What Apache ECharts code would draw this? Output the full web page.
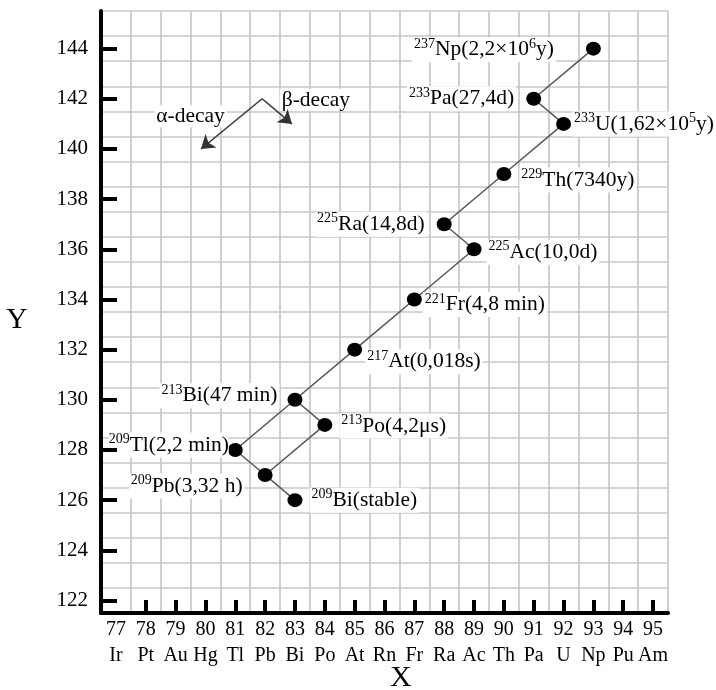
<!DOCTYPE html>
<html><head><meta charset="utf-8">
<script src="https://cdn.jsdelivr.net/npm/echarts@6/dist/echarts.min.js"></script>
<style>html,body{margin:0;padding:0;background:#fff}#c{width:716px;height:690px}</style>
</head><body><div id="c"></div>
<script>
// ---- data ----
const atomicNumbers = [77,78,79,80,81,82,83,84,85,86,87,88,89,90,91,92,93,94,95];
const elementSymbols = ['Ir','Pt','Au','Hg','Tl','Pb','Bi','Po','At','Rn','Fr','Ra','Ac','Th','Pa','U','Np','Pu','Am'];
const xTickValues = [78,79,80,81,82,83,84,85,86,87,88,89,90,91,92,93,94,95];
const yTickValues = [122,124,126,128,130,132,134,136,138,140,142,144];

const nuclideSymbols = ['Np','Pa','U','Th','Ra','Ac','Fr','At','Bi','Po','Tl','Pb','Bi'];
const massNumbers    = [237,233,233,229,225,225,221,217,213,213,209,209,209];
const protonNumbers  = [93,91,92,90,88,89,87,85,83,84,81,82,83];
const neutronNumbers = [144,142,141,139,137,136,134,132,130,129,128,127,126];
const halfLives = ['2,2×10^6y','27,4d','1,62×10^5y','7340y','14,8d','10,0d','4,8 min','0,018s','47 min','4,2μs','2,2 min','3,32 h','stable'];
const decayLinks = [[0,1],[1,2],[2,3],[3,4],[4,5],[5,6],[6,7],[7,8],[8,9],[8,10],[9,11],[10,11],[11,12]];

const legendArrowStart = [81.9, 142];
const alphaArrowEnd = [79.85, 140];
const betaArrowEnd = [82.9, 141];
const alphaLabelAt = [79.5, 141.3];
const betaLabelAt = [83.7, 141.95];

// ---- layout / style ----
const SERIF = '"Liberation Serif", "DejaVu Serif", serif';
const labelPlacement = [
  {position:'left', distance:30, offset:[0,1], padding:[0,2]},
  {position:'left', distance:10, offset:[0,0], padding:[0,2]},
  {position:'right', distance:1, offset:[0,0], padding:[0,2]},
  {position:'right', distance:8, offset:[0,6], padding:[0,2]},
  {position:'left', distance:10, offset:[0,0], padding:[0,2]},
  {position:'right', distance:5, offset:[0,3], padding:[0,2]},
  {position:'right', distance:1, offset:[0,5], padding:[0,2]},
  {position:'right', distance:3, offset:[0,12], padding:[0,2]},
  {position:'left', distance:8, offset:[0,-4], padding:[0,2]},
  {position:'right', distance:7, offset:[0,1], padding:[0,2]},
  {position:'left', distance:0, offset:[1,-5], padding:[0,0]},
  {position:'left', distance:13, offset:[0,11], padding:[0,2]},
  {position:'right', distance:7, offset:[0,0], padding:[0,2]}
];
const rich = {
  t: {fontSize:21.5, fontFamily:SERIF, color:'#000', lineHeight:25},
  sup: {fontSize:14, fontFamily:SERIF, color:'#000', verticalAlign:'top', lineHeight:18}
};
function labelText(i){
  const hl = halfLives[i].replace(/\^(\d+)/, '}{sup|$1}{t|');
  return '{sup|' + massNumbers[i] + '}{t|' + nuclideSymbols[i] + '(' + hl + ')}';
}

const X_MIN = 76.5, X_MAX = 95.5, Y_MIN = 121.5, Y_MAX = 145.5;
const gridLine = {show:true, lineStyle:{color:'#c8c7bf', width:1.7}};

const series = [];
decayLinks.forEach(function(l){
  series.push({
    type:'line', xAxisIndex:0, yAxisIndex:0, silent:true, symbol:'none', z:2,
    lineStyle:{color:'#555', width:1.5},
    data:[[protonNumbers[l[0]], neutronNumbers[l[0]]],[protonNumbers[l[1]], neutronNumbers[l[1]]]]
  });
});
series.push({
  type:'scatter', xAxisIndex:0, yAxisIndex:0, z:4, symbol:'circle', symbolSize:[15,14],
  itemStyle:{color:'#000', opacity:1},
  data: protonNumbers.map(function(z,i){
    const p = labelPlacement[i];
    return {value:[z, neutronNumbers[i]], label:{
      show:true, position:p.position, distance:p.distance, offset:p.offset,
      formatter: labelText(i), rich:rich, backgroundColor:'#fff', padding:p.padding
    }};
  })
});
series.push({
  type:'scatter', xAxisIndex:0, yAxisIndex:0, z:4, symbol:'circle', symbolSize:1, silent:true,
  itemStyle:{color:'rgba(0,0,0,0)', opacity:1},
  data:[
    {value:alphaLabelAt, label:{show:true, position:'inside', formatter:'α-decay'}},
    {value:betaLabelAt, label:{show:true, position:'inside', formatter:'β-decay'}}
  ],
  label:{fontSize:21.5, fontFamily:SERIF, color:'#000', backgroundColor:'#fff', padding:[0,2]},
  markLine:{
    silent:true, animation:false, symbol:['none','arrow'], symbolSize:13,
    lineStyle:{color:'#333', width:1.5, type:'solid'}, label:{show:false},
    data:[
      [{coord:legendArrowStart},{coord:alphaArrowEnd}],
      [{coord:legendArrowStart},{coord:betaArrowEnd}]
    ]
  }
});

const option = {
  animation:false,
  backgroundColor:'#fff',
  grid:{left:101, right:48, top:11, bottom:77, outerBoundsMode:'none'},
  xAxis:[
    {type:'value', min:X_MIN, max:X_MAX, interval:1, position:'bottom',
     axisLine:{show:false}, axisTick:{show:false}, axisLabel:{show:false}, splitLine:gridLine},
    {type:'value', min:X_MIN, max:X_MAX, position:'bottom', z:10,
     axisLine:{show:true, onZero:false, lineStyle:{color:'#000', width:4}},
     axisTick:{show:true, inside:true, length:13, customValues:xTickValues, lineStyle:{color:'#000', width:4}},
     axisLabel:{show:true, customValues:atomicNumbers, margin:4, fontSize:20, lineHeight:26, fontFamily:SERIF, color:'#000',
       formatter:function(v){ return v + '\n' + elementSymbols[atomicNumbers.indexOf(v)]; }},
     splitLine:{show:false}}
  ],
  yAxis:[
    {type:'value', min:Y_MIN, max:Y_MAX, interval:1, position:'left',
     axisLine:{show:false}, axisTick:{show:false}, axisLabel:{show:false}, splitLine:gridLine},
    {type:'value', min:Y_MIN, max:Y_MAX, position:'left', z:10,
     axisLine:{show:true, onZero:false, lineStyle:{color:'#000', width:4}},
     axisTick:{show:true, inside:true, length:16, customValues:yTickValues, lineStyle:{color:'#000', width:4}},
     axisLabel:{show:true, customValues:yTickValues, margin:13, fontSize:21, fontFamily:SERIF, color:'#000'},
     splitLine:{show:false}}
  ],
  graphic:[
    {type:'text', left:6, top:305, style:{text:'Y', fontSize:30, fontFamily:SERIF, fill:'#000'}},
    {type:'text', left:390, top:663, style:{text:'X', fontSize:30, fontFamily:SERIF, fill:'#000'}}
  ],
  series:series
};
const chart = echarts.init(document.getElementById('c'), null, {renderer:'canvas'});
chart.setOption(option);
</script>
</body></html>
